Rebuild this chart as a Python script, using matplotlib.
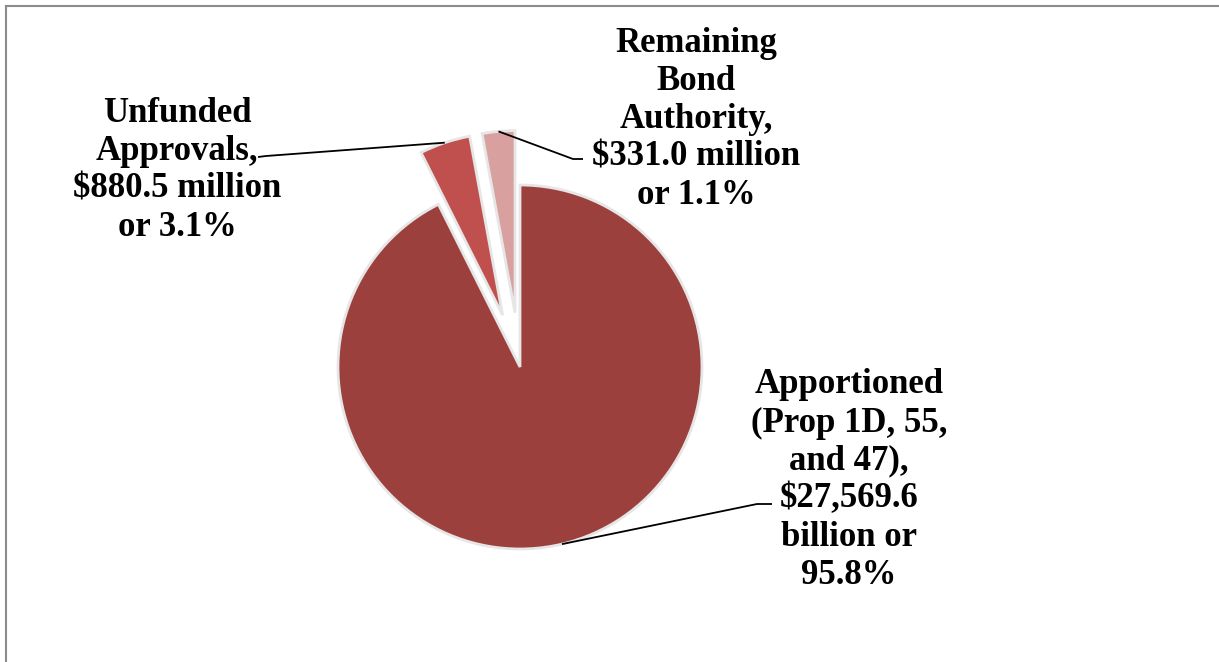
import numpy as np
import matplotlib
matplotlib.use("Agg")
import matplotlib.pyplot as plt
from matplotlib.lines import Line2D

# slice labels as printed on the chart
labels = [
    "Apportioned\n(Prop 1D, 55,\nand 47),\n$27,569.6\nbillion or\n95.8%",
    "Unfunded\nApprovals,\n$880.5 million\nor 3.1%",
    "Remaining\nBond\nAuthority,\n$331.0 million\nor 1.1%",
]
# slice sizes as drawn (percent of the circle)
shares = [92.6, 4.5, 2.9]
colors = ["#9c403e", "#c0504d", "#d9a0a0"]
explode = [0.0, 0.3, 0.3]

W, H = 1219, 662
CX, CY, R = 520, 367, 182  # pie centre and radius in pixels


def px(x, y):
    """pixel position -> data coords of the pie axes"""
    return (x - CX) / R, (CY - y) / R


# label layout in pixels: text centre, leader elbow, leader end
label_pos = [(849, 480), (177, 170), (696, 119)]
leader_elbow = [(757, 504), (266, 156), (573, 159)]
leader_end = [(772, 504), (258, 157), (583, 159)]

fig = plt.figure(figsize=(W / 100, H / 100), dpi=100)
ax = fig.add_axes([0, 0, 1, 1])

wedges, _ = ax.pie(
    shares, colors=colors, explode=explode, startangle=90,
    counterclock=False, radius=1, center=(0, 0), frame=True,
    wedgeprops=dict(edgecolor="#e6e6e6", linewidth=2),
)
ax.set_xlim(px(0, 0)[0], px(W, 0)[0])
ax.set_ylim(px(0, H)[1], px(0, 0)[1])
ax.axis("off")

for w, lab, tp, el, en in zip(wedges, labels, label_pos, leader_elbow, leader_end):
    mid = np.deg2rad((w.theta1 + w.theta2) / 2)
    ax0 = w.center[0] + w.r * np.cos(mid)
    ay0 = w.center[1] + w.r * np.sin(mid)
    ex, ey = px(*el)
    nx, ny = px(*en)
    ax.plot([ax0, ex, nx], [ay0, ey, ny], color="black", lw=1.3,
            solid_capstyle="butt")
    tx, ty = px(*tp)
    ax.text(tx, ty, lab, ha="center", va="center", fontsize=25,
            fontweight="bold", family="Liberation Serif", linespacing=1.2)

# chart frame (left and top edges visible)
fig.add_artist(Line2D([6 / W, 6 / W], [0, 1 - 6 / H], transform=fig.transFigure,
                      color="#8c8c8c", lw=1.5))
fig.add_artist(Line2D([6 / W, 1], [1 - 6 / H, 1 - 6 / H], transform=fig.transFigure,
                      color="#8c8c8c", lw=1.5))

fig.savefig("out.png", dpi=100)
